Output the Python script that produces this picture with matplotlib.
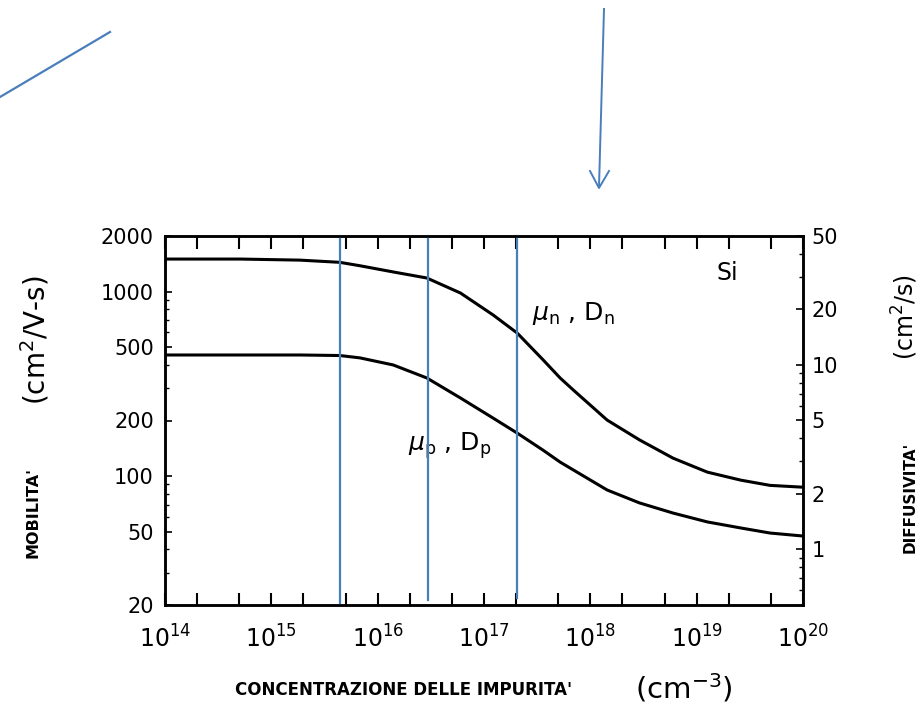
import matplotlib.pyplot as plt
from matplotlib.lines import Line2D
from matplotlib.ticker import LogLocator, NullFormatter

# impurity concentration (cm^-3) and mobilities (cm^2/V-s)
conc = [1e14, 5.1e14, 1.86e15, 4.4e15, 6.8e15, 1.4e16, 2.9e16, 6.0e16, 1.22e17,
        2.05e17, 3.6e17, 5.2e17, 6.9e17, 1.44e18, 2.9e18, 6.0e18, 1.26e19,
        2.6e19, 4.9e19, 1e20]
mu_n = [1500, 1500, 1480, 1440, 1380, 1277, 1184, 982, 746,
        596, 426, 340, 293, 201, 157, 125, 105,
        95, 89, 87]
mu_p = [453, 453, 453, 450, 437, 400, 340, 265, 206,
        171, 138, 119, 108, 84, 71.5, 63, 56.4,
        52.3, 49.1, 47.3]

x_ticks = [1e14, 1e15, 1e16, 1e17, 1e18, 1e19, 1e20]
x_labels = ['$10^{14}$', '$10^{15}$', '$10^{16}$', '$10^{17}$', '$10^{18}$', '$10^{19}$', '$10^{20}$']
mob_ticks = [20, 50, 100, 200, 500, 1000, 2000]
dif_ticks = [1, 2, 5, 10, 20, 50]

# blue marker lines drawn over the scan
blue_x = [4.4e15, 2.98e16, 2.05e17]
blue_bottom = [20, 21.3, 21.8]

blue = '#4a7ebb'
W, H = 924, 704

fig = plt.figure(figsize=(9.24, 7.04), dpi=100)
ax = fig.add_axes([165 / W, 99 / H, 638 / W, 369 / H])

ax.plot(conc, mu_n, color='black', lw=2.2)
ax.plot(conc, mu_p, color='black', lw=2.2)
ax.set_xscale('log')
ax.set_yscale('log')
ax.set_xlim(1e14, 1e20)
ax.set_ylim(20, 2000)

for x, yb in zip(blue_x, blue_bottom):
    ax.plot([x, x], [yb, 2000], color=blue, lw=1.6, clip_on=False, zorder=5)

for s in ax.spines.values():
    s.set_linewidth(1.8)

ax.set_xticks(x_ticks)
ax.set_xticklabels(x_labels, fontsize=17)
ax.xaxis.set_minor_locator(LogLocator(base=10, subs=[2, 5]))
ax.xaxis.set_minor_formatter(NullFormatter())
ax.tick_params(axis='x', which='both', direction='in', length=9, width=1.5,
               top=True, pad=15)

ax.set_yticks(mob_ticks)
ax.set_yticklabels([str(t) for t in mob_ticks], fontsize=15)
ax.yaxis.set_minor_formatter(NullFormatter())
ax.tick_params(axis='y', which='major', direction='in', length=5, width=1.2, pad=8)
ax.tick_params(axis='y', which='minor', direction='in', length=3, width=1)

ax2 = ax.twinx()
ax2.set_yscale('log')
ax2.set_ylim(0.5, 50)
ax2.set_yticks(dif_ticks)
ax2.set_yticklabels([str(t) for t in dif_ticks], fontsize=15)
ax2.yaxis.set_minor_formatter(NullFormatter())
ax2.tick_params(axis='y', which='major', direction='in', length=5, width=1.2, pad=6)
ax2.tick_params(axis='y', which='minor', direction='in', length=3, width=1)
for s in ax2.spines.values():
    s.set_linewidth(1.8)

ax.text(2.84e17, 764, r'$\mu_{\rm n}$ , D$_{\rm n}$', fontsize=18, va='center')
ax.text(1.93e16, 147, r'$\mu_{\rm p}$ , D$_{\rm p}$', fontsize=18, va='center')
ax.text(1.55e19, 1260, 'Si', fontsize=17, va='center')

# axis titles, placed in figure pixels
fig.text(33 / W, 1 - 513 / H, "MOBILITA'", rotation=90, fontsize=11.5, fontweight='bold',
         ha='center', va='center')
fig.text(35 / W, 1 - 340 / H, r'(cm$^2$/V-s)', rotation=90, fontsize=20,
         ha='center', va='center')
fig.text(910 / W, 1 - 497 / H, "DIFFUSIVITA'", rotation=90, fontsize=11, fontweight='bold',
         ha='center', va='center')
fig.text(905 / W, 1 - 317 / H, r'(cm$^2$/s)', rotation=90, fontsize=17,
         ha='center', va='center')
fig.text(404 / W, 1 - 690 / H, "CONCENTRAZIONE DELLE IMPURITA'", fontsize=12,
         fontweight='bold', ha='center', va='center')
fig.text(684 / W, 1 - 688 / H, r'(cm$^{-3}$)', fontsize=21, ha='center', va='center')

# blue strokes above the chart
fig.add_artist(Line2D([0 / W, 110 / W], [1 - 97 / H, 1 - 32 / H],
                      transform=fig.transFigure, color=blue, lw=1.6))
fig.add_artist(Line2D([604 / W, 599 / W], [1 - 9 / H, 1 - 187 / H],
                      transform=fig.transFigure, color=blue, lw=1.4))
fig.add_artist(Line2D([590 / W, 599 / W, 609 / W], [1 - 171 / H, 1 - 188 / H, 1 - 171 / H],
                      transform=fig.transFigure, color=blue, lw=1.4))

fig.savefig('out.png', dpi=100)
